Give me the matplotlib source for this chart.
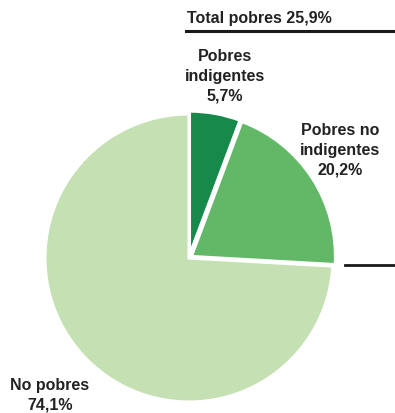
import matplotlib.pyplot as plt
from matplotlib.lines import Line2D

plt.rcParams['font.family'] = ['Liberation Sans', 'DejaVu Sans']

# data
labels = ["Pobres\nindigentes", "Pobres no\nindigentes", "No pobres"]
values = [5.7, 20.2, 74.1]
colors = ["#17894a", "#62b866", "#c5e0b2"]
explode = [0.02, 0.02, 0.0]
total_label = "Total pobres"
total_value = 25.9

W, H = 395, 414
fig = plt.figure(figsize=(W / 100, H / 100), dpi=100)

# pie centred at (189, 259) px, radius 144 px
cx, cy, r = 189, 259, 144
ax = fig.add_axes([(cx - r) / W, (H - cy - r) / H, 2 * r / W, 2 * r / H])
ax.pie(values, colors=colors, startangle=90, counterclock=False,
       explode=explode,
       wedgeprops=dict(edgecolor="white", linewidth=2.2))
ax.set_xlim(-1, 1)
ax.set_ylim(-1, 1)
ax.set_aspect("equal")
ax.axis("off")


def fmt(v):
    return f"{v:.1f}%".replace(".", ",")


txt = dict(fontsize=11.5, fontweight="bold", color="#222222",
           ha="center", va="center", linespacing=1.4)

# label positions in pixels
label_pos = [(225, 76), (340, 150), (50, 395)]
for lab, v, (x, y) in zip(labels, values, label_pos):
    fig.text(x / W, 1 - y / H, f"{lab}\n{fmt(v)}", **txt)

fig.text(187 / W, 1 - 18 / H, f"{total_label} {fmt(total_value)}",
         fontsize=11.5, fontweight="bold", color="#222222",
         ha="left", va="center")

# bracket lines
fig.add_artist(Line2D([186 / W, 1], [1 - 32 / H] * 2, color="#1a1a1a",
                      lw=2.2, transform=fig.transFigure))
fig.add_artist(Line2D([345 / W, 1], [1 - 266 / H] * 2, color="#1a1a1a",
                      lw=2.0, transform=fig.transFigure))

fig.savefig("out.png", dpi=100)
